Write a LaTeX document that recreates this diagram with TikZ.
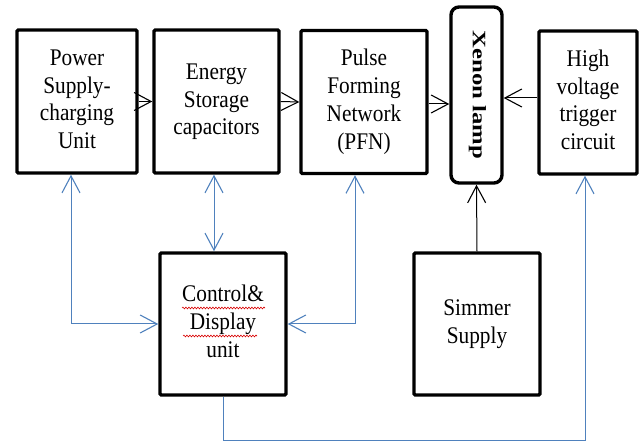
\documentclass[tikz,border=0pt]{standalone}
\usepackage{fontspec}
\usepackage{graphicx}
\setmainfont{Liberation Serif}
\usetikzlibrary{arrows.meta,decorations.pathmorphing}
\definecolor{lineblue}{RGB}{79,129,189}
\newcommand\vtxt[1]{\scalebox{1}[1.12]{\begin{tabular}{@{}c@{}}#1\end{tabular}}}
\begin{document}
\begin{tikzpicture}[x=1pt,y=-1pt,
  blk/.style={draw=black,line width=3.4pt,rounded corners=1.2pt,fill=white,
    align=center,inner sep=0pt,font=\fontsize{21.3}{24.8}\selectfont},
  barb/.tip={Straight Barb[length=17pt,width=18pt,line width=1.1pt]},
  tip/.style={-barb},
  dtip/.style={barb-barb},
  blk1/.style={draw=black,line width=1pt},
  blu/.style={draw=lineblue,line width=1pt},
  squig/.style={draw=red!85!black,line width=0.6pt,decorate,decoration={snake,amplitude=0.9pt,segment length=3pt}}]
\useasboundingbox (0,0) rectangle (641,443);
\node[blk,minimum width=120,minimum height=143] (ps) at (77,101.5) {\vtxt{Power\\Supply-\\charging\\Unit}};
\node[blk,minimum width=125,minimum height=143] (es) at (216.5,101.5) {\vtxt{Energy\\Storage\\capacitors}};
\node[blk,minimum width=126,minimum height=143] (pfn) at (364,102) {\vtxt{Pulse\\Forming\\Network\\(PFN)}};
\node[blk,minimum width=51,minimum height=176,rounded corners=8pt] (xe) at (476.5,95) {};
\node[rotate=-90,inner sep=0pt,font=\bfseries\fontsize{19}{20}\selectfont] (xet) at ([xshift=1]xe.center) {\scalebox{1.3}[1]{Xenon lamp}};
\node[blk,minimum width=98,minimum height=143] (hv) at (588,102.5) {\vtxt{High\\voltage\\trigger\\circuit}};
\node[blk,minimum width=126,minimum height=142] (ctl) at (223,324) {\vtxt{Control\&\\Display\\unit}};
\node[blk,minimum width=126,minimum height=142] (sim) at (477,324) {\vtxt{Simmer\\Supply}};
% spell-check squiggles
\draw[squig] (182,308) -- (265,308);
\draw[squig] (183,336) -- (257,336);
% black arrows
\draw[blk1,tip] (ps.east) -- (es.west);
\draw[blk1,tip] (es.east) -- (pfn.west);
\draw[blk1,tip] ([yshift=-2]pfn.east) -- ([yshift=-2]pfn.east -| xe.west);
\draw[blk1,tip] ([yshift=4.5]hv.west) -- ([yshift=4.5]hv.west -| xe.east);
\draw[blk1,tip] (sim.north) -- (xe.south);
% blue connectors
\coordinate (psb) at ([xshift=-6]ps.south);
\coordinate (esb) at ([xshift=-2.5]es.south);
\coordinate (pfb) at ([xshift=-9]pfn.south);
\coordinate (hvb) at ([xshift=-3]hv.south);
\coordinate (bot) at (0,441);
\draw[blu,dtip] (psb) |- (ctl.west);
\draw[blu,dtip] (esb) -- (esb |- ctl.north);
\draw[blu,dtip] (pfb) |- (ctl.east);
\draw[blu,tip] (ctl.south) |- (bot -| hvb) -- (hvb);
\end{tikzpicture}
\end{document}
